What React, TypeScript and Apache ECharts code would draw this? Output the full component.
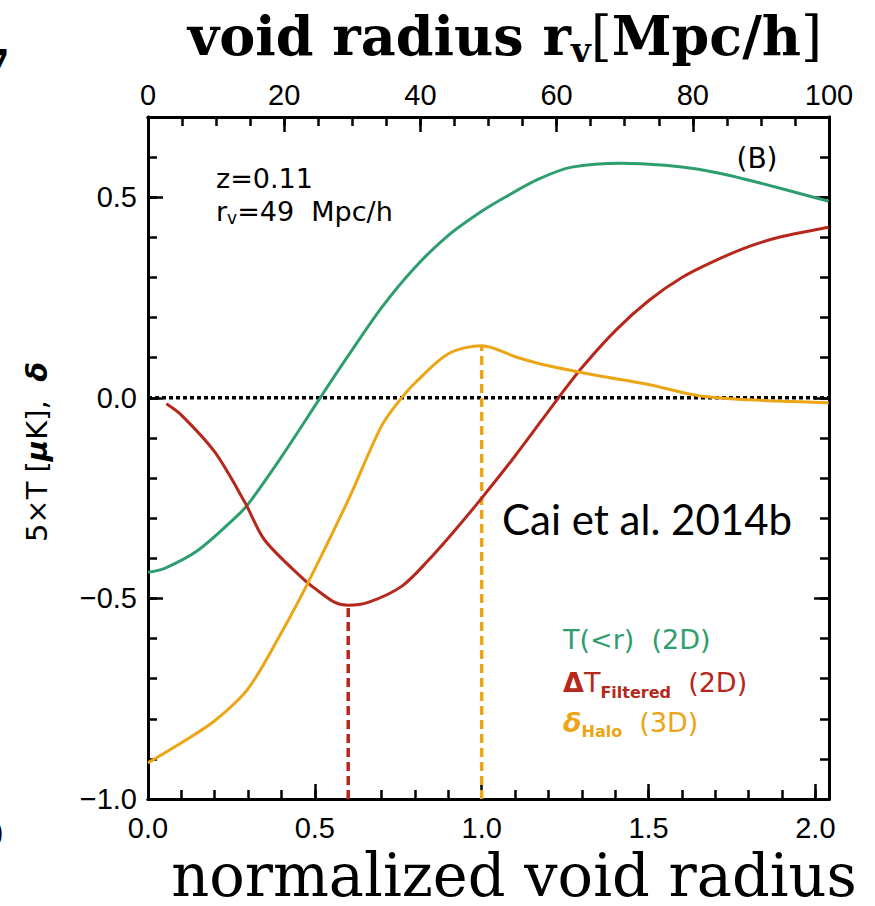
import React, { useEffect, useRef } from "react";
import * as echarts from "echarts";

// normalized radius range: r / r_v with r_v = 49 Mpc/h, top axis 0..100 Mpc/h
const RV = 49;
const X_MAX = 100 / RV;

const greenX = [0, 0.05, 0.15, 0.26, 0.3, 0.4, 0.516, 0.6, 0.7, 0.8, 0.9, 1.0, 1.07, 1.17, 1.27, 1.42, 1.55, 1.65, 1.75, 1.85, 1.95, 2.04];
const greenY = [-0.435, -0.425, -0.38, -0.3, -0.265, -0.147, 0.0, 0.105, 0.225, 0.325, 0.405, 0.465, 0.5, 0.545, 0.575, 0.585, 0.58, 0.57, 0.553, 0.532, 0.51, 0.49];

const redX = [0.055, 0.1, 0.2, 0.29, 0.35, 0.47, 0.5, 0.56, 0.6, 0.66, 0.76, 0.84, 0.92, 1.0, 1.1, 1.23, 1.3, 1.4, 1.5, 1.6, 1.7, 1.8, 1.9, 2.04];
const redY = [-0.015, -0.043, -0.135, -0.26, -0.355, -0.455, -0.475, -0.51, -0.517, -0.51, -0.47, -0.405, -0.33, -0.25, -0.145, 0.0, 0.075, 0.167, 0.242, 0.3, 0.342, 0.377, 0.402, 0.425];

const orangeX = [0, 0.1, 0.2, 0.3, 0.4, 0.48, 0.6, 0.7, 0.76, 0.8, 0.9, 1.0, 1.11, 1.2, 1.35, 1.5, 1.65, 1.8, 2.04];
const orangeY = [-0.91, -0.86, -0.805, -0.725, -0.585, -0.46, -0.255, -0.07, 0.0, 0.037, 0.11, 0.13, 0.1, 0.08, 0.055, 0.033, 0.005, -0.005, -0.012];

const redMinX = 0.6;
const redMinY = -0.517;
const orangePeakX = 1.0;
const orangePeakY = 0.13;

const bottomMajor = 0.5;
const bottomMinor = 0.1;
const topMajor = 20;
const topMinor = 5;
const yMajor = 0.5;
const yMinor = 0.1;
const Y_MIN = -1.0;
const Y_MAX = 0.7;

const GREEN = "#2f9e6f";
const RED = "#b5281b";
const ORANGE = "#eba515";

const zip = (xs: number[], ys: number[]) => xs.map((x, i) => [x, ys[i]]);

const isMult = (v: number, step: number) => Math.abs(v / step - Math.round(v / step)) < 1e-6;
const fmt1 = (v: number) => {
  const s = Math.abs(v) < 1e-9 ? "0.0" : v.toFixed(1);
  return s.replace("-", "\u2212");
};

export default function App() {
  const ref = useRef<HTMLDivElement>(null);

  useEffect(() => {
    if (!ref.current) return;
    const chart = echarts.init(ref.current, null, { renderer: "svg" });

    const frameLine = { show: true, onZero: false, lineStyle: { color: "#000", width: 3 } };
    const tickMajor = { show: true, inside: true, length: 15, lineStyle: { color: "#000", width: 2.5 } };
    const tickMinor = { show: true, inside: true, length: 9, lineStyle: { color: "#000", width: 2.5 } };
    const labelFont = { fontFamily: "Liberation Sans", fontSize: 29, color: "#000" };
    const noLabel = { show: false };
    const noSplit = { show: false };

    const xBase = { type: "value", min: 0, max: X_MAX, splitLine: noSplit, axisLine: frameLine };
    const topBase = { type: "value", min: 0, max: 100, splitLine: noSplit, axisLine: frameLine, position: "top" };
    const yBase = { type: "value", min: Y_MIN, max: Y_MAX, splitLine: noSplit, axisLine: frameLine };

    const sans = "DejaVu Sans";
    const serif = "DejaVu Serif";

    const option: any = {
      animation: false,
      backgroundColor: "#fff",
      grid: { left: 148, top: 117, right: 46, bottom: 107, containLabel: false },
      xAxis: [
        {
          ...xBase,
          position: "bottom",
          interval: bottomMajor,
          axisTick: tickMajor,
          axisLabel: {
            ...labelFont,
            margin: 14,
            formatter: (v: number) => (isMult(v, bottomMajor) ? fmt1(v) : ""),
          },
        },
        { ...xBase, position: "bottom", interval: bottomMinor, axisTick: tickMinor, axisLabel: noLabel },
        {
          ...topBase,
          interval: topMajor,
          axisTick: tickMajor,
          axisLabel: { ...labelFont, margin: 8, formatter: (v: number) => String(Math.round(v)) },
        },
        { ...topBase, interval: topMinor, axisTick: tickMinor, axisLabel: noLabel },
      ],
      yAxis: [
        {
          ...yBase,
          position: "left",
          interval: yMajor,
          axisTick: tickMajor,
          axisLabel: {
            ...labelFont,
            margin: 11,
            formatter: (v: number) => (isMult(v, yMajor) ? fmt1(v) : ""),
          },
        },
        { ...yBase, position: "left", interval: yMinor, axisTick: tickMinor, axisLabel: noLabel },
        { ...yBase, position: "right", interval: yMajor, axisTick: tickMajor, axisLabel: noLabel },
        { ...yBase, position: "right", interval: yMinor, axisTick: tickMinor, axisLabel: noLabel },
      ],
      series: [
        {
          type: "line",
          data: [[0, 0], [X_MAX, 0]],
          symbol: "none",
          lineStyle: { color: "#000", width: 3.5, type: [4, 3] },
          z: 1,
        },
        {
          type: "line",
          data: [[redMinX, Y_MIN], [redMinX, redMinY]],
          symbol: "none",
          lineStyle: { color: RED, width: 3.5, type: [9, 5] },
        },
        {
          type: "line",
          data: [[orangePeakX, Y_MIN], [orangePeakX, orangePeakY]],
          symbol: "none",
          lineStyle: { color: ORANGE, width: 3.5, type: [9, 5] },
        },
        {
          type: "line",
          data: zip(greenX, greenY),
          symbol: "none",
          smooth: 0.3,
          lineStyle: { color: GREEN, width: 3 },
          z: 3,
        },
        {
          type: "line",
          data: zip(redX, redY),
          symbol: "none",
          smooth: 0.3,
          lineStyle: { color: RED, width: 3 },
          z: 3,
        },
        {
          type: "line",
          data: zip(orangeX, orangeY),
          symbol: "none",
          smooth: 0.3,
          lineStyle: { color: ORANGE, width: 3 },
          z: 3,
        },
      ],
      graphic: [
        {
          type: "text",
          x: 505,
          y: 36,
          style: {
            text: "{a|void radius r}{s|v}{b|[}{a|Mpc/h}{b|]}",
            align: "center",
            verticalAlign: "middle",
            rich: {
              a: { fontFamily: serif, fontWeight: "bold", fontSize: 54, fill: "#000" },
              s: { fontFamily: serif, fontWeight: "bold", fontSize: 34, padding: [28, 0, 0, 0], fill: "#000" },
              b: { fontFamily: serif, fontWeight: "normal", fontSize: 54, fill: "#000" },
            },
          },
        },
        {
          type: "text",
          x: 514,
          y: 875,
          style: {
            text: "normalized void radius",
            align: "center",
            verticalAlign: "middle",
            fontFamily: serif,
            fontSize: 59,
            fill: "#000",
          },
        },
        {
          type: "text",
          x: 37,
          y: 452,
          rotation: Math.PI / 2,
          style: {
            text: "{n|5×T [}{m|μ}{n|K],  }{d|δ}",
            align: "center",
            verticalAlign: "middle",
            rich: {
              n: { fontFamily: sans, fontSize: 29, fill: "#000" },
              m: { fontFamily: sans, fontSize: 29, fontStyle: "italic", fontWeight: "bold", fill: "#000" },
              d: { fontFamily: sans, fontSize: 29, fontStyle: "italic", fontWeight: "bold", fill: "#000" },
            },
          },
        },
        {
          type: "text",
          x: 216,
          y: 178,
          style: { text: "z=0.11", align: "left", verticalAlign: "middle", fontFamily: sans, fontSize: 27, fill: "#000" },
        },
        {
          type: "text",
          x: 216,
          y: 211,
          style: {
            text: "{n|r}{s|v}{n|=49  Mpc/h}",
            align: "left",
            verticalAlign: "middle",
            rich: {
              n: { fontFamily: sans, fontSize: 27, fill: "#000" },
              s: { fontFamily: sans, fontSize: 17, padding: [14, 0, 0, 0], fill: "#000" },
            },
          },
        },
        {
          type: "text",
          x: 757,
          y: 158,
          style: { text: "(B)", align: "center", verticalAlign: "middle", fontFamily: sans, fontSize: 28, fill: "#000" },
        },
        {
          type: "text",
          x: 502,
          y: 519,
          style: { text: "Cai et al. 2014b", align: "left", verticalAlign: "middle", fontFamily: "Lato", fontSize: 42, fill: "#000" },
        },
        {
          type: "text",
          x: 563,
          y: 639,
          style: { text: "T(<r)  (2D)", align: "left", verticalAlign: "middle", fontFamily: sans, fontSize: 27, fill: GREEN },
        },
        {
          type: "text",
          x: 563,
          y: 682,
          style: {
            text: "{g|Δ}{n|T}{s|Filtered}{n|  (2D)}",
            align: "left",
            verticalAlign: "middle",
            rich: {
              g: { fontFamily: sans, fontSize: 27, fontWeight: "bold", fill: RED },
              n: { fontFamily: sans, fontSize: 27, fill: RED },
              s: { fontFamily: sans, fontSize: 16, fontWeight: "bold", padding: [20, 0, 0, 0], fill: RED },
            },
          },
        },
        {
          type: "text",
          x: 563,
          y: 722,
          style: {
            text: "{g|δ}{s|Halo}{n|  (3D)}",
            align: "left",
            verticalAlign: "middle",
            rich: {
              g: { fontFamily: sans, fontSize: 27, fontWeight: "bold", fontStyle: "italic", fill: ORANGE },
              n: { fontFamily: sans, fontSize: 27, fill: ORANGE },
              s: { fontFamily: sans, fontSize: 16, fontWeight: "bold", padding: [18, 0, 0, 0], fill: ORANGE },
            },
          },
        },
        {
          type: "text",
          x: 10,
          y: 66,
          style: { text: "7", align: "right", verticalAlign: "middle", fontFamily: serif, fontWeight: "bold", fontSize: 44, fill: "#000" },
        },
        {
          type: "text",
          x: 4,
          y: 832,
          style: { text: ")", align: "right", verticalAlign: "middle", fontFamily: serif, fontSize: 30, fill: "#000" },
        },
      ],
    };

    chart.setOption(option);
    return () => chart.dispose();
  }, []);

  return <div ref={ref} style={{ position: "absolute", left: 0, top: 0, width: 875, height: 906 }} />;
}
